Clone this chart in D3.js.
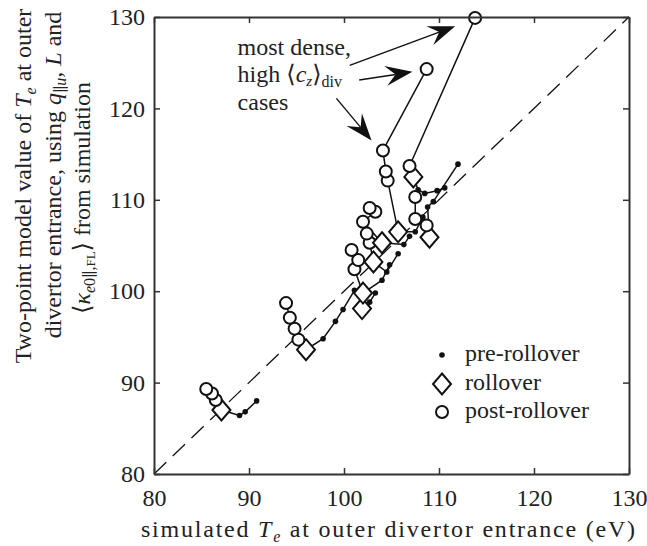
<!DOCTYPE html>
<html>
<head>
<meta charset="utf-8">
<script src="https://cdn.jsdelivr.net/npm/d3@7"></script>
<style>
body { margin: 0; background: #fff; }
svg { display: block; }
text { font-family: "Liberation Serif", "DejaVu Serif", serif; fill: #222; }
</style>
</head>
<body>
<div id="chart"></div>
<script>
// axis ticks
var xTicks = [80, 90, 100, 110, 120, 130];
var yTicks = [80, 90, 100, 110, 120, 130];

// one array per case: [simulated Te, two-point Te, stage]  (0 pre, 1 rollover, 2 post)
var case1 = [[90.8, 88.0, 0], [89.6, 86.8, 0], [89.0, 86.4, 0], [87.1, 87.0, 1], [86.5, 88.1, 2], [86.1, 88.8, 2], [85.5, 89.3, 2]];
var case2 = [[101.1, 100.1, 0], [99.9, 98.0, 0], [99.1, 96.7, 0], [97.8, 94.8, 0], [96.0, 93.6, 1], [95.2, 94.7, 2], [94.8, 95.9, 2], [94.3, 97.1, 2], [93.9, 98.7, 2]];
var case3 = [[103.3, 99.8, 0], [102.7, 98.8, 0], [101.9, 98.1, 1]];
var case4 = [[104.8, 102.9, 0], [104.0, 101.2, 0], [102.0, 99.8, 1], [101.1, 102.4, 2], [101.5, 103.4, 2], [100.8, 104.5, 2]];
var case5 = [[105.7, 104.1, 0], [104.5, 102.1, 0], [103.1, 103.2, 1], [102.7, 105.3, 2], [102.4, 106.3, 2]];
var case6 = [[106.9, 106.0, 0], [106.3, 105.1, 0], [104.0, 105.3, 1], [102.0, 107.6, 2], [103.3, 108.7, 2], [102.7, 109.1, 2]];
var case7 = [[108.3, 108.1, 0], [107.5, 106.5, 0], [105.7, 106.5, 1], [104.6, 112.1, 2], [104.4, 113.1, 2], [104.1, 115.4, 2], [108.7, 124.3, 2]];
var case8 = [[112.0, 113.9, 0], [109.4, 109.8, 0], [108.8, 109.2, 0], [109.0, 105.9, 1], [108.7, 107.2, 2], [107.5, 107.9, 2], [107.5, 110.3, 2]];
var case9 = [[110.6, 111.3, 0], [109.8, 111.0, 0], [108.5, 110.7, 0], [107.8, 111.1, 0], [107.3, 112.5, 1], [106.9, 113.7, 2], [113.8, 129.9, 2]];
var cases = [case1, case2, case3, case4, case5, case6, case7, case8, case9];

var legendLabels = ['pre-rollover', 'rollover', 'post-rollover'];

// annotation arrows: [fromX, fromY, toX, toY] in data units
var arrows = [[100.6, 124.7, 111.7, 129.0], [101.6, 123.1, 107.2, 124.0], [99.2, 121.1, 102.9, 116.5]];

var width = 647, height = 546;
var x = d3.scaleLinear().domain([80, 130]).range([154, 629]);
var y = d3.scaleLinear().domain([80, 130]).range([474, 17]);

var svg = d3.select('#chart').append('svg').attr('width', width).attr('height', height);

// diagonal y = x
svg.append('line')
    .attr('x1', x(80)).attr('y1', y(80))
    .attr('x2', x(130)).attr('y2', y(130))
    .attr('stroke', '#111').attr('stroke-width', 1.3)
    .attr('stroke-dasharray', '17,9');

// connecting lines
var line = d3.line().x(function (d) { return x(d[0]); }).y(function (d) { return y(d[1]); });

cases.forEach(function (c) {
    svg.append('path').attr('d', line(c))
        .attr('fill', 'none').attr('stroke', '#111').attr('stroke-width', 1.5);
});

function drawMarker(g, stage, cx, cy) {
    if (stage === 0) {
        g.append('circle').attr('cx', cx).attr('cy', cy).attr('r', 2.8).attr('fill', '#111');
    } else if (stage === 1) {
        g.append('path')
            .attr('d', 'M' + cx + ',' + (cy - 10.5) + 'L' + (cx + 9) + ',' + cy + 'L' + cx + ',' + (cy + 10.5) + 'L' + (cx - 9) + ',' + cy + 'Z')
            .attr('fill', '#fff').attr('stroke', '#111').attr('stroke-width', 2);
    } else {
        g.append('circle').attr('cx', cx).attr('cy', cy).attr('r', 6)
            .attr('fill', '#fff').attr('stroke', '#111').attr('stroke-width', 2);
    }
}

var marks = svg.append('g');
cases.forEach(function (c) {
    c.forEach(function (d) { drawMarker(marks, d[2], x(d[0]), y(d[1])); });
});

// axes, ticks pointing inward
function styleAxis(g) {
    g.selectAll('path.domain').attr('stroke', '#333').attr('stroke-width', 2);
    g.selectAll('.tick line').attr('stroke', '#333').attr('stroke-width', 1.5);
    g.selectAll('.tick text').attr('font-family', '"Liberation Serif", serif').attr('font-size', 24).attr('fill', '#222');
}

svg.append('g').attr('transform', 'translate(0,' + y(80) + ')')
    .call(d3.axisBottom(x).tickValues(xTicks).tickSize(-6).tickSizeOuter(0).tickPadding(15))
    .call(styleAxis);
svg.append('g').attr('transform', 'translate(0,' + y(130) + ')')
    .call(d3.axisTop(x).tickValues(xTicks).tickSize(-6).tickSizeOuter(0).tickFormat(''))
    .call(styleAxis);
svg.append('g').attr('transform', 'translate(' + x(80) + ',0)')
    .call(d3.axisLeft(y).tickValues(yTicks).tickSize(-6).tickSizeOuter(0).tickPadding(9))
    .call(styleAxis);
svg.append('g').attr('transform', 'translate(' + x(130) + ',0)')
    .call(d3.axisRight(y).tickValues(yTicks).tickSize(-6).tickSizeOuter(0).tickFormat(''))
    .call(styleAxis);

// x label
var xl = svg.append('text').attr('x', 141).attr('y', 537)
    .attr('font-size', 24).attr('textLength', 494).attr('lengthAdjust', 'spacing');
xl.append('tspan').text('simulated ');
xl.append('tspan').attr('font-style', 'italic').text('T');
xl.append('tspan').attr('font-style', 'italic').attr('font-size', 16).attr('dy', 5).text('e');
xl.append('tspan').attr('dy', -5).text(' at outer divertor entrance (eV)');

// y label, three rotated lines
var yl1 = svg.append('text').attr('transform', 'rotate(-90)').attr('x', -186).attr('y', 31)
    .attr('text-anchor', 'middle').attr('font-size', 24);
yl1.append('tspan').text('Two-point model value of ');
yl1.append('tspan').attr('font-style', 'italic').text('T');
yl1.append('tspan').attr('font-style', 'italic').attr('font-size', 16).attr('dy', 5).text('e');
yl1.append('tspan').attr('dy', -5).text(' at outer');

var yl2 = svg.append('text').attr('transform', 'rotate(-90)').attr('x', -175).attr('y', 61)
    .attr('text-anchor', 'middle').attr('font-size', 24);
yl2.append('tspan').text('divertor entrance, using ');
yl2.append('tspan').attr('font-style', 'italic').text('q');
yl2.append('tspan').attr('font-size', 16).attr('dy', 5).text('\u2225');
yl2.append('tspan').attr('font-size', 16).attr('font-style', 'italic').text('u');
yl2.append('tspan').attr('dy', -5).text(', ');
yl2.append('tspan').attr('font-style', 'italic').text('L');
yl2.append('tspan').text(' and');

var yl3 = svg.append('text').attr('transform', 'rotate(-90)').attr('x', -198).attr('y', 90)
    .attr('text-anchor', 'middle').attr('font-size', 24);
yl3.append('tspan').text('\u27E8');
yl3.append('tspan').attr('font-style', 'italic').text('\u03BA');
yl3.append('tspan').attr('font-size', 16).attr('font-style', 'italic').attr('dy', 5).text('e');
yl3.append('tspan').attr('font-size', 16).text('0\u2225,');
yl3.append('tspan').attr('font-size', 13).text('FL');
yl3.append('tspan').attr('dy', -5).text('\u27E9 from simulation');

// annotation text
var ann = svg.append('g').attr('font-size', 24);
ann.append('text').attr('x', x(88.8)).attr('y', y(125.8)).text('most dense,');
var a2 = ann.append('text').attr('x', x(88.8)).attr('y', y(122.9));
a2.append('tspan').text('high \u27E8');
a2.append('tspan').attr('font-style', 'italic').text('c');
a2.append('tspan').attr('font-style', 'italic').attr('font-size', 15).attr('dy', 4).text('z');
a2.append('tspan').attr('dy', -4).text('\u27E9');
a2.append('tspan').attr('font-size', 16).attr('dy', 5).text('div');
ann.append('text').attr('x', x(88.8)).attr('y', y(119.8)).text('cases');

// arrows with dart-shaped heads
arrows.forEach(function (a) {
    var x0 = x(a[0]), y0 = y(a[1]), x1 = x(a[2]), y1 = y(a[3]);
    var ang = Math.atan2(y1 - y0, x1 - x0);
    var L = 27, W = 10, N = 17;
    var ux = Math.cos(ang), uy = Math.sin(ang), px = -uy, py = ux;
    var bx = x1 - L * ux, by = y1 - L * uy;
    var nx = x1 - N * ux, ny = y1 - N * uy;
    svg.append('line').attr('x1', x0).attr('y1', y0).attr('x2', nx).attr('y2', ny)
        .attr('stroke', '#111').attr('stroke-width', 1.4);
    svg.append('path')
        .attr('d', 'M' + x1 + ',' + y1 + 'L' + (bx + W * px) + ',' + (by + W * py) + 'L' + nx + ',' + ny + 'L' + (bx - W * px) + ',' + (by - W * py) + 'Z')
        .attr('fill', '#111');
});

// legend
var lg = svg.append('g').attr('font-size', 24);
var legendY = [355, 384, 412];
legendLabels.forEach(function (lab, i) {
    drawMarker(lg, i, 442, legendY[i]);
    lg.append('text').attr('x', 465).attr('y', legendY[i] + 6).text(lab);
});
</script>
</body>
</html>
